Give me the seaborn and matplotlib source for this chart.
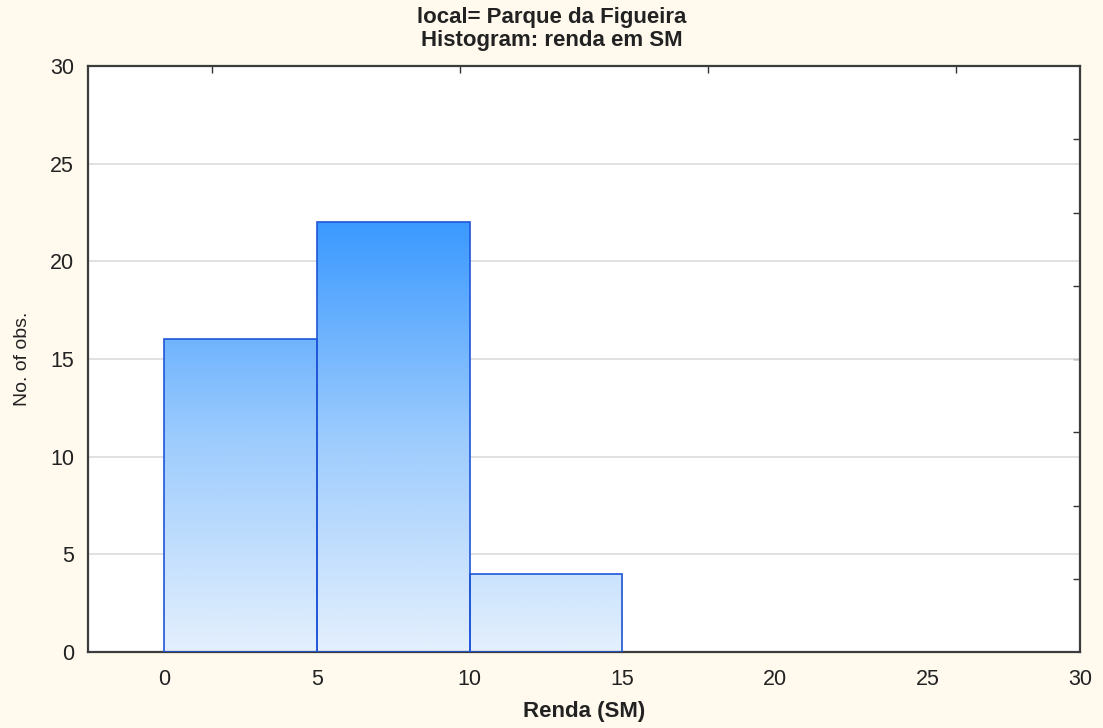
import numpy as np
import seaborn as sns
import matplotlib.pyplot as plt
from matplotlib.colors import LinearSegmentedColormap

# Histogram of income (in minimum wages)
bin_edges = [0, 5, 10, 15]
counts = [16, 22, 4]
x_ticks = [0, 5, 10, 15, 20, 25, 30]
y_ticks = [0, 5, 10, 15, 20, 25, 30]

bg = '#fff9ee'
sns.set_style('white')
plt.rcParams['font.family'] = ['Liberation Sans', 'DejaVu Sans']

fig = plt.figure(figsize=(11.03, 7.28), dpi=100, facecolor=bg)
ax = fig.add_axes([0.0798, 0.1044, 0.8994, 0.8049])
ax.set_facecolor('white')

centers = [(a + b) / 2 for a, b in zip(bin_edges[:-1], bin_edges[1:])]
sns.histplot(x=centers, weights=counts, bins=bin_edges, ax=ax,
             facecolor='none', edgecolor='#1f56d8', linewidth=1.2, zorder=3)

# vertical gradient fill clipped to each bar
cmap = LinearSegmentedColormap.from_list('g', ['#e4f0fd', '#9ccbfd', '#3b99ff'])
grad = np.linspace(0, 1, 256).reshape(-1, 1)
top = max(counts)
for p in ax.patches:
    im = ax.imshow(grad, cmap=cmap, aspect='auto', origin='lower',
                   extent=[bin_edges[0], bin_edges[-1], 0, top], zorder=2)
    im.set_clip_path(p)

ax.set_xlim(-2.5, 30)
ax.set_ylim(0, 30)
ax.set_xticks(x_ticks)
ax.set_yticks(y_ticks)
ax.set_xticklabels([str(t) for t in x_ticks])
ax.set_yticklabels([str(t) for t in y_ticks])
ax.tick_params(direction='in', length=5, width=1, colors='#333333',
               labelsize=15.5, labelcolor='#222222')
ax.tick_params(axis='x', pad=12)
ax.tick_params(axis='y', pad=10)
ax.grid(axis='y', color='#dcdcdc', linewidth=1.2, zorder=0)
ax.set_axisbelow(True)
for s in ax.spines.values():
    s.set_visible(True)
    s.set_color('#3c3c3c')
    s.set_linewidth(1.6)

# extra ticks on the top and right edges
top_ax = ax.secondary_xaxis('top')
top_ax.set_xticks([-2.5 + 32.5 * k / 8 for k in (1, 3, 5, 7)])
top_ax.tick_params(direction='in', length=5, width=1, colors='#333333', labeltop=False)
right_ax = ax.secondary_yaxis('right')
right_ax.set_yticks([30 * k / 8 for k in range(1, 8)])
right_ax.tick_params(direction='in', length=5, width=1, colors='#333333', labelright=False)
for a in (top_ax, right_ax):
    for s in a.spines.values():
        s.set_visible(False)

ax.set_xlabel('Renda (SM)', fontsize=16, fontweight='bold', color='#222222', va='center')
ax.xaxis.set_label_coords(0.5, -0.1024)
ax.set_ylabel('No. of obs.', fontsize=14, color='#222222', va='center')
ax.yaxis.set_label_coords(-0.0665, 0.5)
fig.text(0.5, 1 - 29 / 728, 'local= Parque da Figueira\nHistogram: renda em SM',
         ha='center', va='center', fontsize=16, fontweight='bold',
         color='#222222', linespacing=1.15)

fig.savefig('out.png', dpi=100, facecolor=bg)
